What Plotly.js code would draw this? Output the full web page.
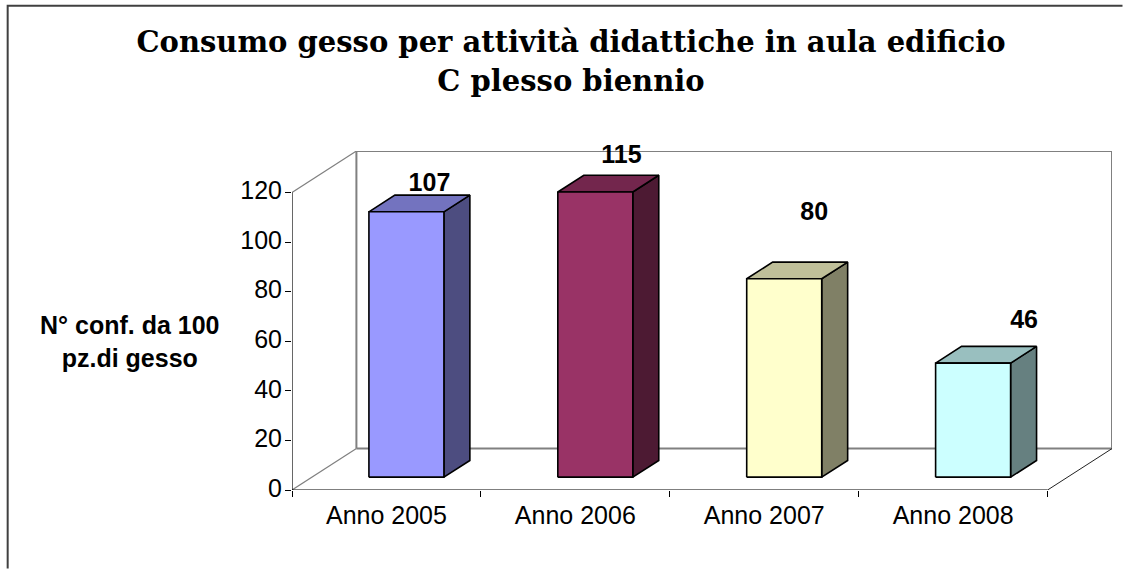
<!DOCTYPE html>
<html>
<head>
<meta charset="utf-8">
<script src="https://cdn.plot.ly/plotly-3.0.1.min.js"></script>
<style>html,body{margin:0;padding:0;background:#fff;overflow:hidden}#chart{width:1123px;height:569px}</style>
</head>
<body>
<div id="chart"></div>
<script>
const categories = ["Anno 2005", "Anno 2006", "Anno 2007", "Anno 2008"];
const values = [107, 115, 80, 46];
const barColors = ["#9999FF", "#993366", "#FFFFCC", "#CCFFFF"];
const yTicks = [0, 20, 40, 60, 80, 100, 120];
const labelShiftX = [0.122, 0.138, 0.159, 0.27];
const labelShiftY = [10.8, 14.2, 26.3, 16.6];

const depthX = 0.341, depthY = 16.7;      // oblique projection of the chart's depth
const barWidth = 0.397, barD0 = 0.31, barD1 = 0.713;
const maxY = 120;

function shade(hex, k) {
  const n = parseInt(hex.slice(1), 16);
  return "rgb(" + [n >> 16, (n >> 8) & 255, n & 255].map(c => Math.round(c * k)).join(",") + ")";
}
function px(x, d) { return x + d * depthX; }
function py(y, d) { return y + d * depthY; }
function poly(xs, ys, fill, name) {
  return {type: "scatter", mode: "lines", x: xs, y: ys, fill: "toself", fillcolor: fill,
    line: {color: "#000", width: 1.6}, cliponaxis: false, showlegend: false, hoverinfo: "skip", name: name};
}
function edge(xs, ys, color, width) {
  return {type: "scatter", mode: "lines", x: xs, y: ys, line: {color: color, width: width},
    cliponaxis: false, showlegend: false, hoverinfo: "skip"};
}

const n = categories.length;
const traces = [
  // back walls and floor edges
  edge([px(0,1), px(0,1), px(n,1), px(n,1), px(0,1)],
       [py(0,1), py(maxY,1), py(maxY,1), py(0,1), py(0,1)], "#808080", 2),
  edge([0, px(0,1)], [maxY, py(maxY,1)], "#808080", 1.2),
  edge([0, px(0,1)], [0, py(0,1)], "#808080", 1.2),
  edge([n, px(n,1)], [0, py(0,1)], "#222222", 1),
  edge([0, 0], [0, maxY], "#000000", 1.2),
  edge([0, n], [0, 0], "#000000", 1.2)
];

values.forEach((v, i) => {
  const x0 = i + 0.5 - barWidth / 2, x1 = i + 0.5 + barWidth / 2;
  const base = barColors[i];
  traces.push(poly([px(x1,barD0), px(x1,barD1), px(x1,barD1), px(x1,barD0), px(x1,barD0)],
                   [py(0,barD0), py(0,barD1), py(v,barD1), py(v,barD0), py(0,barD0)],
                   shade(base, 0.5), categories[i] + " side"));
  traces.push(poly([px(x0,barD0), px(x0,barD1), px(x1,barD1), px(x1,barD0), px(x0,barD0)],
                   [py(v,barD0), py(v,barD1), py(v,barD1), py(v,barD0), py(v,barD0)],
                   shade(base, 0.75), categories[i] + " top"));
  traces.push(poly([px(x0,barD0), px(x1,barD0), px(x1,barD0), px(x0,barD0), px(x0,barD0)],
                   [py(0,barD0), py(0,barD0), py(v,barD0), py(v,barD0), py(0,barD0)],
                   base, categories[i]));
});

traces.push({
  type: "scatter", mode: "text",
  x: values.map((v, i) => px(i + 0.5, barD0) + labelShiftX[i]),
  y: values.map((v, i) => py(v, barD0) + labelShiftY[i]),
  text: values.map(String), textposition: "middle center",
  textfont: {family: "Liberation Sans", size: 25, color: "#000"},
  texttemplate: "<b>%{text}</b>", cliponaxis: false, showlegend: false, hoverinfo: "skip"
});

const W = 1123, H = 569, L = 292, R = 10.5, T = 151, B = 78.5;
const pw = W - L - R, ph = H - T - B;
const fx = p => (p - L) / pw, fy = p => (H - B - p) / ph;

const layout = {
  width: W, height: H, autosize: false,
  paper_bgcolor: "#fff", plot_bgcolor: "rgba(0,0,0,0)", showlegend: false,
  margin: {l: L, r: R, t: T, b: B, pad: 0},
  font: {family: "Liberation Sans", color: "#000"},
  title: {
    text: '<span style="font-size:29px"><b>Consumo gesso per attività didattiche in aula edificio<br>C plesso biennio</b></span>',
    font: {family: "DejaVu Serif", size: 30, color: "#000"},
    x: 571 / W, xanchor: "center", y: 1 - 52 / H, yanchor: "middle"
  },
  xaxis: {
    range: [0, n + depthX], tickmode: "array", tickvals: categories.map((c, i) => i + 0.5), ticktext: categories,
    ticks: "", showgrid: false, zeroline: false, showline: false,
    tickfont: {family: "Liberation Sans", size: 25, color: "#000"}, ticklabelstandoff: 8,
    minor: {tickmode: "array", tickvals: [0, 1, 2, 3, 4], ticks: "outside", ticklen: 6, tickwidth: 1, tickcolor: "#000", showgrid: false}
  },
  yaxis: {
    range: [0, maxY + depthY], tickmode: "array", tickvals: yTicks,
    ticks: "outside", ticklen: 6, tickwidth: 1, tickcolor: "#000",
    showgrid: false, zeroline: false, showline: false, ticklabelstandoff: -2, ticklabelshift: -2,
    tickfont: {family: "Liberation Sans", size: 25, color: "#000"}
  },
  annotations: [{
    text: "<b>N° conf. da 100<br>pz.di gesso</b>", xref: "paper", yref: "paper",
    x: fx(130), y: fy(342), xanchor: "center", yanchor: "middle", showarrow: false, align: "center",
    font: {family: "Liberation Sans", size: 25, color: "#000"}
  }],
  shapes: [{
    type: "path", xref: "paper", yref: "paper",
    path: `M ${fx(7.5)} ${fy(569)} L ${fx(7.5)} ${fy(5.5)} L ${fx(1123)} ${fy(5.5)}`,
    line: {color: "#404040", width: 2}
  }]
};

Plotly.newPlot("chart", traces, layout, {displayModeBar: false, staticPlot: true});
</script>
</body>
</html>
